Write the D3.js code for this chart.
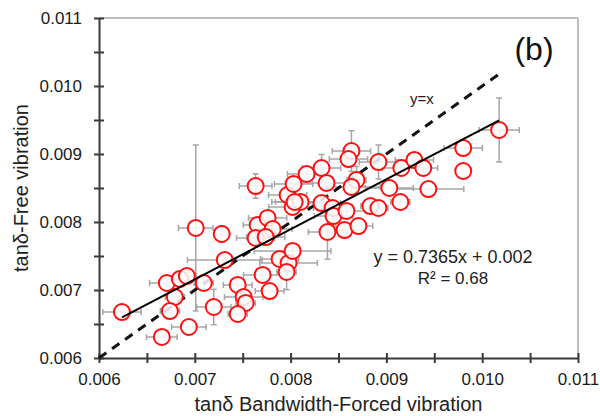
<!DOCTYPE html>
<html>
<head>
<meta charset="utf-8">
<script src="https://cdn.jsdelivr.net/npm/d3@7"></script>
<style>
  html, body { margin: 0; padding: 0; background: #fff; }
  svg { display: block; font-family: "Liberation Sans", Arial, sans-serif; }
</style>
</head>
<body>
<svg id="chart" width="600" height="416"></svg>
<script>
// tanδ from bandwidth (forced vibration) vs tanδ free vibration
const forcedX = [0.006240,0.006656,0.006938,0.006708,0.006844,0.006917,0.006792,0.006740,0.007010,0.007281,
  0.007313,0.007094,0.007198,0.007448,0.007510,0.007531,0.007448,0.007708,0.007781,0.007885,
  0.007979,0.007958,0.008021,0.007656,0.007760,0.007813,0.007635,0.007740,0.007969,0.008021,
  0.007635,0.008031,0.008167,0.008323,0.008635,0.008604,0.008917,0.009156,0.009292,0.009385,
  0.009438,0.009031,0.009146,0.008833,0.008917,0.008688,0.008635,0.008375,0.008104,0.008323,
  0.008438,0.008448,0.008583,0.008385,0.008563,0.008708,0.009802,0.009802,0.010177,0.008042];
const freeY = [0.006676,0.006309,0.006456,0.007103,0.007162,0.007206,0.006897,0.006691,0.007912,0.007824,
  0.007441,0.007103,0.006750,0.007074,0.006897,0.006809,0.006647,0.007221,0.006985,0.007456,
  0.007397,0.007265,0.007574,0.007956,0.008059,0.007897,0.007765,0.007779,0.008397,0.008221,
  0.008529,0.008559,0.008706,0.008794,0.009044,0.008926,0.008882,0.008794,0.008912,0.008794,
  0.008485,0.008500,0.008294,0.008235,0.008206,0.008618,0.008515,0.008574,0.008294,0.008279,
  0.008206,0.008088,0.008162,0.007853,0.007882,0.007941,0.009088,0.008750,0.009353,0.008294];
const errX = [0.00020,0.00016,0.00018,0.00018,0.00010,0.00010,0.00010,0.00010,0.00018,0,
  0.00039,0.00010,0.00018,0.00015,0.00020,0.00010,0.00010,0.00020,0.00015,0.00020,
  0.00030,0.00010,0.00040,0.00015,0.00020,0.00020,0.00020,0.00020,0.00020,0.00025,
  0.00017,0.00020,0.00020,0.00020,0.00020,0.00020,0.00020,0.00020,0.00020,0.00015,
  0.00037,0.00025,0.00010,0.00010,0.00010,0.00010,0.00030,0.00030,0.00030,0.00020,
  0.00020,0.00020,0.00020,0.00020,0.00020,0.00015,0.00020,0,0.00021,0.00020];
const errY = [0,0,0,0.00005,0,0.00008,0,0,0.00122,0.00012,
  0.00008,0.00010,0.00026,0.00008,0.00006,0,0,0.00010,0,0.00008,
  0.00010,0.00026,0.00010,0.00010,0.00008,0.00010,0.00010,0,0.00020,0.00010,
  0.00018,0.00010,0.00010,0.00020,0.00030,0.00010,0.00025,0,0.00010,0.00010,
  0,0,0.00010,0.00010,0,0.00020,0.00010,0.00010,0.00010,0.00010,
  0.00010,0.00015,0.00010,0.00040,0.00010,0,0,0,0.00047,0.00010];
const majorTicks = [0.006,0.007,0.008,0.009,0.010,0.011];
const minorTicks = [0.0065,0.0075,0.0085,0.0095,0.0105];
const fitSlope = 0.7365, fitIntercept = 0.002;
const eqText = "y = 0.7365x + 0.002";
const r2Text = "R² = 0.68";
const xTitle = "tanδ Bandwidth-Forced vibration";
const yTitle = "tanδ-Free vibration";
const panelLabel = "(b)";
const identityEnd = 0.0102;

const svg = d3.select("#chart");
const x = d3.scaleLinear().domain([0.006, 0.011]).range([99, 578]);
const y = d3.scaleLinear().domain([0.006, 0.011]).range([358, 18]);
const fmt = d3.format(".3f");

// frame (top/right light)
svg.append("line").attr("x1", x(0.006)).attr("x2", x(0.011)).attr("y1", y(0.011)).attr("y2", y(0.011))
  .attr("stroke", "#bdbdbd").attr("stroke-width", 2);
svg.append("line").attr("x1", x(0.011)).attr("x2", x(0.011)).attr("y1", y(0.011)).attr("y2", y(0.006))
  .attr("stroke", "#bdbdbd").attr("stroke-width", 2);

// axes
function styleAxis(g, horizontal) {
  g.select(".domain").attr("stroke", "#3a3a3a").attr("stroke-width", 2);
  g.selectAll(".tick line").attr("stroke", "#3a3a3a").attr("stroke-width", 2);
  if (horizontal) g.selectAll(".tick line").attr("y1", -5);
  else g.selectAll(".tick line").attr("x1", 5);
  g.selectAll(".tick text").attr("fill", "#1a1a1a").style("font-size", "17px")
    .style("font-family", "'Liberation Sans', Arial, sans-serif");
}
const gxMinor = svg.append("g").attr("transform", `translate(0,${y(0.006)})`)
  .call(d3.axisBottom(x).tickValues(minorTicks).tickSize(5).tickFormat(""));
styleAxis(gxMinor, true); gxMinor.select(".domain").remove();
const gyMinor = svg.append("g").attr("transform", `translate(${x(0.006)},0)`)
  .call(d3.axisLeft(y).tickValues(minorTicks).tickSize(5).tickFormat(""));
styleAxis(gyMinor, false); gyMinor.select(".domain").remove();

const gx = svg.append("g").attr("transform", `translate(0,${y(0.006)})`)
  .call(d3.axisBottom(x).tickValues(majorTicks).tickSize(5).tickPadding(10).tickFormat(fmt).tickSizeOuter(0));
styleAxis(gx, true);
const gy = svg.append("g").attr("transform", `translate(${x(0.006)},0)`)
  .call(d3.axisLeft(y).tickValues(majorTicks).tickSize(5).tickPadding(12).tickFormat(fmt).tickSizeOuter(0));
styleAxis(gy, false);

// data
const data = forcedX.map((v, i) => ({x: v, y: freeY[i], ex: errX[i], ey: errY[i]}));

// error bars
const eb = svg.append("g").attr("stroke", "#a6a6a6").attr("stroke-width", 1.5).attr("fill", "none");
data.forEach(d => {
  if (d.ex > 0) {
    eb.append("line").attr("x1", x(d.x - d.ex)).attr("x2", x(d.x + d.ex)).attr("y1", y(d.y)).attr("y2", y(d.y));
    [d.x - d.ex, d.x + d.ex].forEach(v => eb.append("line").attr("x1", x(v)).attr("x2", x(v))
      .attr("y1", y(d.y) - 3).attr("y2", y(d.y) + 3));
  }
  if (d.ey > 0) {
    eb.append("line").attr("x1", x(d.x)).attr("x2", x(d.x)).attr("y1", y(d.y - d.ey)).attr("y2", y(d.y + d.ey));
    [d.y - d.ey, d.y + d.ey].forEach(v => eb.append("line").attr("y1", y(v)).attr("y2", y(v))
      .attr("x1", x(d.x) - 3).attr("x2", x(d.x) + 3));
  }
});

// y = x dashed line
svg.append("line").attr("x1", x(0.006)).attr("y1", y(0.006)).attr("x2", x(identityEnd)).attr("y2", y(identityEnd))
  .attr("stroke", "#111").attr("stroke-width", 3).attr("stroke-dasharray", "9,7");

// circles
svg.append("g").selectAll("circle").data(data).join("circle")
  .attr("cx", d => x(d.x)).attr("cy", d => y(d.y)).attr("r", 8)
  .attr("fill", "#fff").attr("fill-opacity", 0.85).attr("stroke", "#ff1010").attr("stroke-width", 2);

// regression line
const xmin = d3.min(forcedX), xmax = d3.max(forcedX);
svg.append("line").attr("x1", x(xmin)).attr("y1", y(fitSlope * xmin + fitIntercept))
  .attr("x2", x(xmax)).attr("y2", y(fitSlope * xmax + fitIntercept))
  .attr("stroke", "#000").attr("stroke-width", 2);

// annotations
svg.append("text").attr("x", 422).attr("y", 104).attr("text-anchor", "middle")
  .style("font-size", "15px").attr("fill", "#222").text("y=x");
svg.append("text").attr("x", 534).attr("y", 60).attr("text-anchor", "middle")
  .style("font-size", "32px").attr("fill", "#111").text(panelLabel);
svg.append("text").attr("x", 453).attr("y", 263).attr("text-anchor", "middle")
  .style("font-size", "18px").attr("fill", "#222").text(eqText);
svg.append("text").attr("x", 453).attr("y", 284).attr("text-anchor", "middle")
  .style("font-size", "17px").attr("fill", "#222").text(r2Text);

// axis titles
svg.append("text").attr("x", (x(0.006) + x(0.011)) / 2).attr("y", 411).attr("text-anchor", "middle")
  .style("font-size", "20px").attr("fill", "#222").text(xTitle);
svg.append("text").attr("transform", `translate(28,${(y(0.006) + y(0.011)) / 2}) rotate(-90)`)
  .attr("text-anchor", "middle").style("font-size", "20px").attr("fill", "#222").text(yTitle);
</script>
</body>
</html>
